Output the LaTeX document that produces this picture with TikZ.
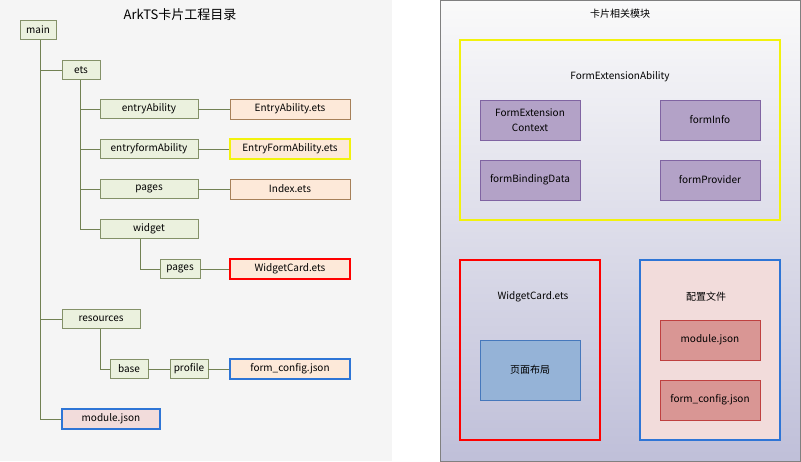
\documentclass[tikz,border=0pt]{standalone}
\usepackage{fontspec}
\setmainfont{Noto Sans CJK SC}
\usetikzlibrary{positioning}
\definecolor{dirfill}{HTML}{EBF1DE}
\definecolor{dirline}{HTML}{4F6228}
\definecolor{filefill}{HTML}{FDE9D9}
\definecolor{pinkfill}{HTML}{F2DCDB}
\definecolor{modfill}{HTML}{B3A2C7}
\definecolor{modline}{HTML}{8064A2}
\definecolor{cfgfill}{HTML}{D99694}
\definecolor{pagefill}{HTML}{95B3D7}
\definecolor{myblue}{HTML}{2E75D6}
\definecolor{myyellow}{HTML}{F2F20C}
\begin{document}
\begin{tikzpicture}[x=1pt, y=-1pt, font=\fontsize{10}{11}\selectfont,
    dir/.style = {draw=dirline!70, fill=dirfill, minimum height=19pt, inner sep=1pt},
    file/.style = {draw=gray!70!orange, fill=filefill, minimum width=120pt, minimum height=20pt, inner sep=1pt},
    mod/.style = {draw=modline, fill=modfill, minimum width=100pt, minimum height=40pt, align=center, inner sep=1pt},
    tree/.style = {draw=dirline!80, thick}]
    \useasboundingbox (0,0) rectangle (801,461);
    \fill[gray!8] (0,0) rectangle (392,461);
    \shade[top color=gray!4, bottom color=blue!25!gray!40, draw=gray] (440,0) rectangle (800,461);
    \node (t1) at (180,15) {\fontsize{13}{15}\selectfont ArkTS卡片工程目录};
    \node (t2) at (620,14) {卡片相关模块};

    % project tree
    \node[dir, minimum width=36pt] (main) at (38,30) {main};
    \node[dir, minimum width=38pt] (ets) at (81,70) {ets};
    \node[dir, minimum width=98pt] (ea) at (149,109) {entryAbility};
    \node[dir, minimum width=98pt] (efa) at (149,149) {entryformAbility};
    \node[dir, minimum width=98pt] (pg) at (149,189) {pages};
    \node[dir, minimum width=98pt] (wg) at (149,229) {widget};
    \node[dir, minimum width=40pt] (pg2) at (180,269) {pages};
    \node[dir, minimum width=78pt] (res) at (101,319) {resources};
    \node[dir, minimum width=38pt] (base) at (129,369) {base};
    \node[dir, minimum width=38pt] (prof) at (189,369) {profile};
    \node[file] (eaf) at (290,109) {EntryAbility.ets};
    \node[file, draw=myyellow, line width=1.5pt] (efaf) at (290,149) {EntryFormAbility.ets};
    \node[file] (idx) at (290,189) {Index.ets};
    \node[file, draw=red, line width=1.5pt] (wc) at (290,269) {WidgetCard.ets};
    \node[file, draw=myblue, line width=1.5pt] (fc) at (290,369) {form\_config.json};
    \node[file, draw=myblue, fill=pinkfill, line width=1.5pt, minimum width=98pt] (mj) at (111,419) {module.json};

    \draw[tree] (main.south -| 40,0) |- (mj.west);
    \draw[tree] (40,70) -- (ets.west);
    \draw[tree] (40,319) -- (res.west);
    \draw[tree] (ets.south -| 80,0) |- (wg.west);
    \draw[tree] (80,109) -- (ea.west);
    \draw[tree] (80,149) -- (efa.west);
    \draw[tree] (80,189) -- (pg.west);
    \draw[tree] (wg.south -| 140,0) |- (pg2.west);
    \draw[tree] (res.south -| 100,0) |- (base.west);
    \draw[tree] (ea) -- (eaf);
    \draw[tree] (efa) -- (efaf);
    \draw[tree] (pg) -- (idx);
    \draw[tree] (pg2) -- (wc);
    \draw[tree] (base) -- (prof);
    \draw[tree] (prof) -- (fc);

    % modules
    \draw[myyellow, line width=1.5pt] (460,40) rectangle (780,220);
    \node (fea) at (620,77) {FormExtensionAbility};
    \node[mod] (fec) at (530,120) {FormExtension\\[4pt]Context};
    \node[mod] (fi) at (710,120) {formInfo};
    \node[mod] (fbd) at (530,180) {formBindingData};
    \node[mod] (fp) at (710,180) {formProvider};
    \draw[red, line width=1.5pt] (460,260) rectangle (600,440);
    \node (wct) at (533,297) {WidgetCard.ets};
    \node[draw=myblue!70!gray, fill=pagefill, minimum width=100pt, minimum height=60pt] (lay) at (530,370) {页面布局};
    \draw[myblue, line width=1.5pt, fill=pinkfill] (640,260) rectangle (780,440);
    \node (cfg) at (706,297) {配置文件};
    \node[mod, draw=red!50!gray, fill=cfgfill] (mj2) at (710,340) {module.json};
    \node[mod, draw=red!50!gray, fill=cfgfill] (fc2) at (710,400) {form\_config.json};
\end{tikzpicture}
\end{document}
